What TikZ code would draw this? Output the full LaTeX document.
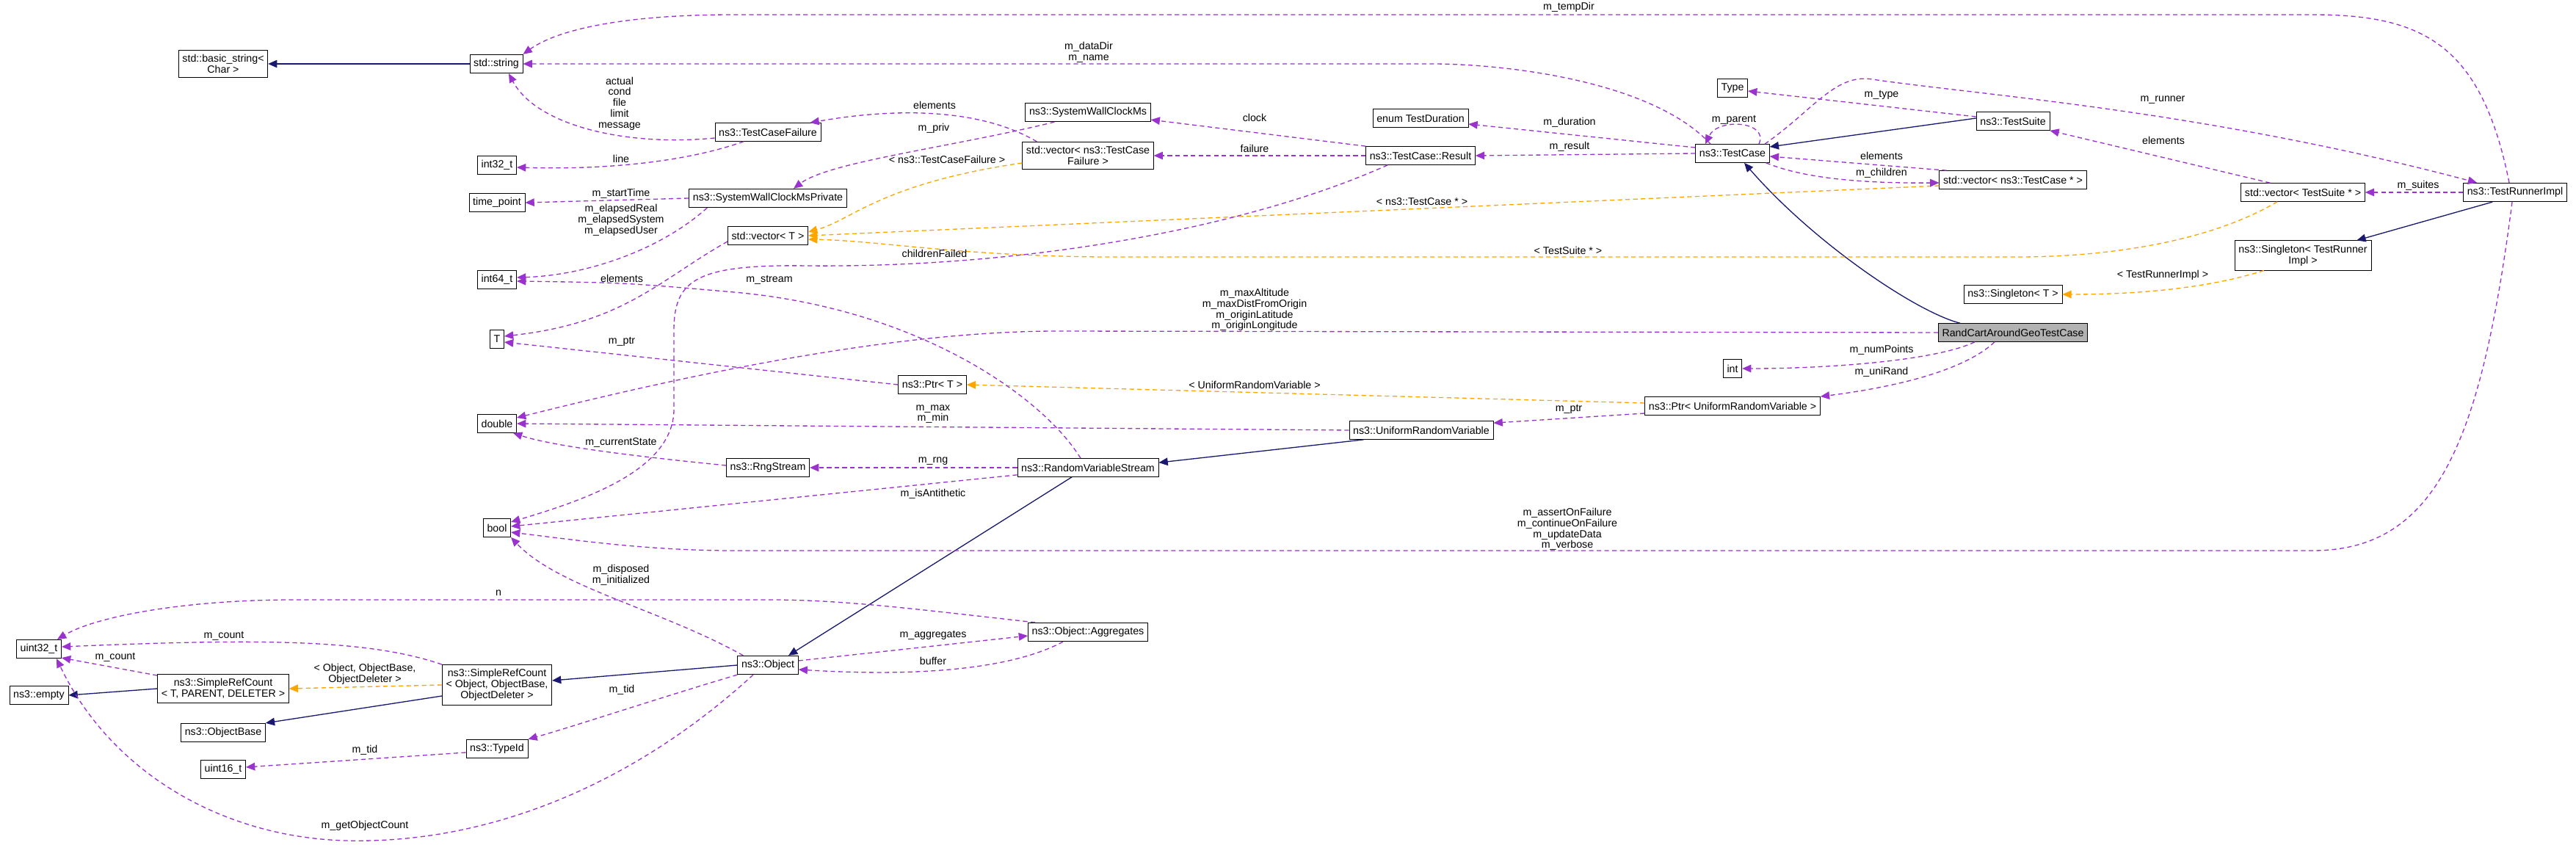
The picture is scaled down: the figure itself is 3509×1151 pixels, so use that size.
\documentclass[tikz,border=0pt]{standalone}
\usepackage{fontspec}
\newfontfamily\dox{Liberation Sans}
\usetikzlibrary{arrows.meta,calc}
\definecolor{memcol}{HTML}{9A32CD}
\definecolor{inhcol}{HTML}{191970}
\definecolor{tplcol}{HTML}{FFA500}
\tikzset{
  cls/.style={draw, fill=white, font=\dox\fontsize{8.1}{8.4}\selectfont, align=center,
    minimum height=0.5cm, inner xsep=3pt, inner ysep=3.5pt},
  lbl/.style={font=\dox\fontsize{8.1}{8.4}\selectfont, align=center, inner sep=0pt},
  mem/.style={draw=memcol, line width=0.75pt, dash pattern=on 3.5pt off 2.5pt, -{Triangle[length=7pt,width=6pt]}},
  inh/.style={draw=inhcol, line width=0.75pt, -{Triangle[length=7pt,width=6pt]}},
  tpl/.style={draw=tplcol, line width=0.75pt, dash pattern=on 3.5pt off 2.5pt, -{Triangle[length=7pt,width=6pt]}}
}
\begin{document}
\begin{tikzpicture}[x=0.02cm, y=-0.02cm]
    \useasboundingbox (0,0) rectangle (3509,1151);
    % Classes
    \node[cls] (bstr) at (304,87) {std::basic\_string\textless\\Char \textgreater};
    \node[cls] (str) at (676,87) {std::string};
    \node[cls] (tcf) at (1046,180) {ns3::TestCaseFailure};
    \node[cls] (i32) at (677,225) {int32\_t};
    \node[cls] (tp) at (677,276) {time\_point};
    \node[cls] (swcp) at (1046,270) {ns3::SystemWallClockMsPrivate};
    \node[cls] (vecT) at (1046,321) {std::vector\textless{} T \textgreater};
    \node[cls] (i64) at (677,381) {int64\_t};
    \node[cls] (tT) at (677,462) {T};
    \node[cls] (dbl) at (677,577) {double};
    \node[cls] (rng) at (1046,637) {ns3::RngStream};
    \node[cls] (nbool) at (677,719) {bool};
    \node[cls] (u32) at (53,884) {uint32\_t};
    \node[cls] (empty) at (53,947) {ns3::empty};
    \node[cls] (srcT) at (304,938) {ns3::SimpleRefCount\\\textless{} T, PARENT, DELETER \textgreater};
    \node[cls] (srcO) at (677,933) {ns3::SimpleRefCount\\\textless{} Object, ObjectBase,\\ObjectDeleter \textgreater};
    \node[cls] (obj) at (1046,906) {ns3::Object};
    \node[cls] (obase) at (304,998) {ns3::ObjectBase};
    \node[cls] (tid) at (677,1020) {ns3::TypeId};
    \node[cls] (u16) at (304,1048) {uint16\_t};
    \node[cls] (swc) at (1482,153) {ns3::SystemWallClockMs};
    \node[cls] (vtcf) at (1482,212) {std::vector\textless{} ns3::TestCase\\Failure \textgreater};
    \node[cls] (tdur) at (1935,161) {enum TestDuration};
    \node[cls] (res) at (1935,212) {ns3::TestCase::Result};
    \node[cls] (type) at (2360,120) {Type};
    \node[cls] (tc) at (2360,209) {ns3::TestCase};
    \node[cls] (tsuite) at (2742,165) {ns3::TestSuite};
    \node[cls] (vtc) at (2742,245) {std::vector\textless{} ns3::TestCase * \textgreater};
    \node[cls] (vts) at (3137,262) {std::vector\textless{} TestSuite * \textgreater};
    \node[cls] (tri) at (3426,262) {ns3::TestRunnerImpl};
    \node[cls] (sgl) at (3137,348) {ns3::Singleton\textless{} TestRunner\\Impl \textgreater};
    \node[cls] (sglT) at (2742,401) {ns3::Singleton\textless{} T \textgreater};
    \node[cls, fill=black!30] (rc) at (2742,453) {RandCartAroundGeoTestCase};
    \node[cls] (nint) at (2360,502) {int};
    \node[cls] (pT) at (1270,524) {ns3::Ptr\textless{} T \textgreater};
    \node[cls] (pU) at (2360,553) {ns3::Ptr\textless{} UniformRandomVariable \textgreater};
    \node[cls] (urv) at (1936,586) {ns3::UniformRandomVariable};
    \node[cls] (rvs) at (1482,637) {ns3::RandomVariableStream};
    \node[cls] (aggr) at (1482,861) {ns3::Object::Aggregates};

    % Inheritance
    \draw[inh] (str) -- (bstr);
    \draw[inh] ($(tsuite.west)+(0,-4)$) -- ($(tc.east)+(0,-9)$);
    \draw[inh] ($(tri.south west)+(40,0)$) -- ($(sgl.north east)+(-20,0)$);
    \draw[inh] ($(rc.north west)+(30,0)$) .. controls (2610,425) and (2470,330) .. ($(tc.south)+(16,0)$);
    \draw[inh] ($(urv.south west)+(20,0)$) -- ($(rvs.north east)+(0,6)$);
    \draw[inh] ($(rvs.south)+(-22,0)$) -- ($(obj.north)+(28,0)$);
    \draw[inh] (obj.west) -- ($(srcO.east)+(0,-6)$);
    \draw[inh] ($(srcO.west)+(0,15)$) -- (obase.north east);
    \draw[inh] (srcT.west) -- (empty.east);

    % Templates
    \draw[tpl] ($(vtcf.west)+(0,10)$) .. controls (1200,250) and (1160,300) .. ($(vecT.east)+(0,-5)$);
    \draw[tpl] ($(vtc.west)+(0,8)$) -- (vecT.east);
    \draw[tpl] ($(vts.south)+(-35,0)$) .. controls (3000,335) and (2850,350) .. (2750,350) -- (1500,350) .. controls (1300,348) and (1200,328) .. ($(vecT.east)+(0,5)$);
    \draw[tpl] ($(sgl.south west)+(40,0)$) .. controls (3000,395) and (2900,401) .. (sglT.east);
    \draw[tpl] ($(pU.west)+(0,-4)$) -- (pT.east);
    \draw[tpl] (srcO.west) -- (srcT.east);
    \node[lbl] (ltcf) at (1290,217) {\textless{} ns3::TestCaseFailure \textgreater};
    \node[lbl] (ltc) at (1937,275) {\textless{} ns3::TestCase * \textgreater};
    \node[lbl] (lts) at (2136,341) {\textless{} TestSuite * \textgreater};
    \node[lbl] (ltri) at (2946,375) {\textless{} TestRunnerImpl \textgreater};
    \node[lbl] (lurv) at (1709,524) {\textless{} UniformRandomVariable \textgreater};
    \node[lbl] (lobj) at (497,918) {\textless{} Object, ObjectBase,\\ObjectDeleter \textgreater};

    % Members
    \draw[mem] ($(tri.north)+(-8,0)$) .. controls (3380,60) and (3300,20) .. (3150,20) -- (1000,20) .. controls (850,20) and (760,40) .. (str.north east);
    \draw[mem] ($(tc.north)+(-30,0)$) .. controls (2250,110) and (2050,87) .. (1950,87) -- (str.east);
    \draw[mem] ($(tcf.west)+(0,8)$) .. controls (850,200) and (730,170) .. ($(str.south)+(17,0)$);
    \draw[mem] ($(tcf.south)+(-33,0)$) .. controls (950,215) and (850,232) .. ($(i32.east)+(0,3)$);
    \draw[mem] ($(vtcf.north west)+(20,0)$) .. controls (1340,150) and (1230,145) .. ($(tcf.north east)+(-15,0)$);
    \draw[mem] ($(swc.south west)+(40,0)$) .. controls (1300,200) and (1130,220) .. ($(swcp.north)+(35,0)$);
    \draw[mem] (swcp.west) -- (tp.east);
    \draw[mem] ($(swcp.south west)+(25,0)$) .. controls (900,340) and (800,375) .. ($(i64.east)+(0,-3)$);
    \draw[mem] ($(vecT.west)+(0,8)$) .. controls (900,380) and (850,440) .. ($(tT.east)+(0,-4)$);
    \draw[mem] ($(rvs.north)+(-10,0)$) .. controls (1420,540) and (1250,420) .. (1000,398) .. controls (850,385) .. ($(i64.east)+(0,2)$);
    \draw[mem] ($(res.south west)+(30,0)$) .. controls (1700,310) and (1400,365) .. (1100,362) .. controls (950,360) and (918,380) .. (918,450) -- (918,560) .. controls (915,640) and (800,680) .. ($(nbool.east)+(0,-8)$);
    \draw[mem] (res.north west) -- ($(swc.south east)+(0,-3)$);
    \draw[mem] (res.west) -- (vtcf.east);
    \draw[mem] ($(tc.west)+(0,-8)$) -- ($(tdur.east)+(0,8)$);
    \draw[mem] (tc.west) -- (res.east);
    \draw[mem] ($(tc.north)+(36,0)$) .. controls (2410,165) and (2340,160) .. ($(tc.north)+(-37,0)$);
    \draw[mem] ($(tsuite.west)+(0,-6)$) -- ($(type.east)+(0,4)$);
    \draw[mem] ($(vtc.north west)+(10,0)$) -- ($(tc.east)+(0,4)$);
    \draw[mem] ($(tc.south east)+(-5,0)$) .. controls (2450,240) and (2520,250) .. ($(vtc.west)+(0,4)$);
    \draw[mem] ($(tc.north)+(44,0)$) .. controls (2470,150) and (2500,100) .. (2550,108) .. controls (2700,130) and (3000,150) .. ($(tri.north west)+(19,0)$);
    \draw[mem] ($(vts.north west)+(40,0)$) -- (tsuite.south east);
    \draw[mem] (tri.west) -- (vts.east);
    \draw[mem] (rc.west) -- (1440,451) .. controls (1200,451) and (900,520) .. ($(dbl.east)+(0,-8)$);
    \draw[mem] ($(rc.south west)+(50,0)$) .. controls (2640,490) and (2500,502) .. (nint.east);
    \draw[mem] ($(rc.south)+(-25,0)$) .. controls (2670,510) and (2560,530) .. (pU.north east);
    \draw[mem] ($(pU.west)+(0,10)$) -- ($(urv.north east)+(0,3)$);
    \draw[mem] (pT.west) -- ($(tT.east)+(0,4)$);
    \draw[mem] (urv.west) -- (dbl.east);
    \draw[mem] ($(rng.west)+(0,-3)$) .. controls (900,625) and (760,610) .. ($(dbl.south east)+(-5,0)$);
    \draw[mem] (rvs.west) -- (rng.east);
    \draw[mem] ($(rvs.south west)+(0,-3)$) -- ($(nbool.east)+(0,-2)$);
    \draw[mem] ($(tri.south)+(-4,0)$) .. controls (3380,600) and (3320,750) .. (3150,750) -- (1000,750) .. controls (880,750) and (780,735) .. ($(nbool.east)+(0,6)$);
    \draw[mem] ($(obj.north west)+(8,0)$) .. controls (900,830) and (760,800) .. ($(nbool.south)+(19,0)$);
    \draw[mem] ($(aggr.north west)+(10,0)$) .. controls (1250,830) and (1150,817) .. (1050,817) -- (400,817) .. controls (250,817) and (130,840) .. ($(u32.north east)+(-6,0)$);
    \draw[mem] (srcO.north west) .. controls (500,870) and (350,870) .. ($(u32.east)+(0,-3)$);
    \draw[mem] ($(srcT.north west)+(0,2)$) -- ($(u32.south east)+(0,-1)$);
    \draw[mem] ($(obj.east)+(0,-6)$) -- ($(aggr.west)+(0,5)$);
    \draw[mem] ($(aggr.south)+(-34,0)$) .. controls (1400,900) and (1300,925) .. ($(obj.east)+(0,6)$);
    \draw[mem] (obj.south west) .. controls (900,950) and (780,990) .. (tid.north east);
    \draw[mem] ($(tid.west)+(0,5)$) -- ($(u16.east)+(0,-3)$);
    \draw[mem] ($(obj.south)+(-20,0)$) .. controls (850,1080) and (650,1150) .. (470,1145) .. controls (300,1140) and (150,1050) .. ($(u32.south)+(24,0)$);

    % Member labels
    \node[lbl] (ltemp) at (2137,10) {m\_tempDir};
    \node[lbl] (ldata) at (1483,71) {m\_dataDir\\m\_name};
    \node[lbl] (lact) at (844,141) {actual\\cond\\file\\limit\\message};
    \node[lbl] (lline) at (846,216) {line};
    \node[lbl] (lelf) at (1273,143) {elements};
    \node[lbl] (lpriv) at (1272,175) {m\_priv};
    \node[lbl] (lstart) at (846,264) {m\_startTime};
    \node[lbl] (lelap) at (846,300) {m\_elapsedReal\\m\_elapsedSystem\\m\_elapsedUser};
    \node[lbl] (lelT) at (847,379) {elements};
    \node[lbl] (lstream) at (1048,381) {m\_stream};
    \node[lbl] (lchild) at (1273,345) {childrenFailed};
    \node[lbl] (lclock) at (1709,160) {clock};
    \node[lbl] (lfail) at (1709,202) {failure};
    \node[lbl] (ldur) at (2138,167) {m\_duration};
    \node[lbl] (lres) at (2138,200) {m\_result};
    \node[lbl] (lpar) at (2362,163) {m\_parent};
    \node[lbl] (ltype) at (2563,129) {m\_type};
    \node[lbl] (lrun) at (2946,136) {m\_runner};
    \node[lbl] (lelts) at (2947,191) {elements};
    \node[lbl] (leltc) at (2563,212) {elements};
    \node[lbl] (lchn) at (2563,236) {m\_children};
    \node[lbl] (lsuit) at (3294,253) {m\_suites};
    \node[lbl] (lmax) at (1709,422) {m\_maxAltitude\\m\_maxDistFromOrigin\\m\_originLatitude\\m\_originLongitude};
    \node[lbl] (lnum) at (2563,477) {m\_numPoints};
    \node[lbl] (luni) at (2563,507) {m\_uniRand};
    \node[lbl] (lptrU) at (2137,557) {m\_ptr};
    \node[lbl] (lptrT) at (847,465) {m\_ptr};
    \node[lbl] (lmm) at (1271,564) {m\_max\\m\_min};
    \node[lbl] (lcur) at (846,603) {m\_currentState};
    \node[lbl] (lrng) at (1271,628) {m\_rng};
    \node[lbl] (lanti) at (1271,673) {m\_isAntithetic};
    \node[lbl] (lassert) at (2135,721) {m\_assertOnFailure\\m\_continueOnFailure\\m\_updateData\\m\_verbose};
    \node[lbl] (ldisp) at (846,783) {m\_disposed\\m\_initialized};
    \node[lbl] (ln) at (679,808) {n};
    \node[lbl] (lcnt1) at (305,866) {m\_count};
    \node[lbl] (lcnt2) at (157,895) {m\_count};
    \node[lbl] (ltid1) at (847,940) {m\_tid};
    \node[lbl] (ltid2) at (497,1022) {m\_tid};
    \node[lbl] (lagg) at (1271,865) {m\_aggregates};
    \node[lbl] (lbuf) at (1271,900) {buffer};
    \node[lbl] (lgoc) at (497,1125) {m\_getObjectCount};
\end{tikzpicture}
\end{document}
